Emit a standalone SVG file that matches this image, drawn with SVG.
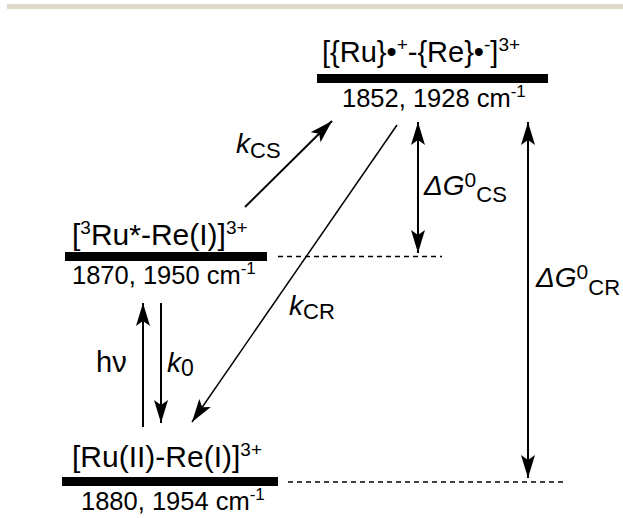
<svg xmlns="http://www.w3.org/2000/svg" width="623" height="518" viewBox="0 0 623 518">
<style>
  text { font-family: "Liberation Sans", Arial, Helvetica, sans-serif; fill: #000; }
  .lab { font-size: 30px; }
  .num { font-size: 25.5px; }
  .sup { font-size: 19px; }
  .nsup { font-size: 17px; }
  .it { font-style: italic; }
  .bar { fill: #000; }
  .arr { stroke: #000; stroke-width: 2; fill: none; }
  .dash { stroke: #000; stroke-width: 1.5; stroke-dasharray: 5 4; fill: none; }
</style>
<defs>
  <marker id="ah" markerUnits="userSpaceOnUse" markerWidth="23" markerHeight="14" refX="23" refY="7" orient="auto-start-reverse" overflow="visible">
    <path d="M23,7 L0,0 L5,7 L0,14 Z" fill="#000"/>
  </marker>
</defs>
<rect x="7" y="4" width="616" height="5" fill="#e0d8c8"/>

<g id="state-cs">
  <text class="lab" x="322" y="62" style="font-size:29px">[{Ru}•<tspan class="sup" dy="-11">+</tspan><tspan dy="11">-{Re}•</tspan><tspan class="sup" dy="-11">-</tspan><tspan dy="11">]</tspan><tspan class="sup" dy="-11">3+</tspan></text>
  <rect class="bar" x="317" y="74" width="231" height="9"/>
  <text class="num" x="342" y="107">1852, 1928 cm<tspan class="nsup" dy="-10">-1</tspan></text>
</g>

<g id="state-excited">
  <text class="lab" x="72" y="245">[<tspan class="sup" dy="-11">3</tspan><tspan dy="11">Ru*-Re(I)]</tspan><tspan class="sup" dy="-11">3+</tspan></text>
  <rect class="bar" x="65" y="252" width="202" height="9"/>
  <text class="num" x="72" y="284">1870, 1950 cm<tspan class="nsup" dy="-10">-1</tspan></text>
</g>

<g id="state-ground">
  <text class="lab" x="72" y="467">[Ru(II)-Re(I)]<tspan class="sup" dy="-11">3+</tspan></text>
  <rect class="bar" x="62" y="477" width="216" height="9"/>
  <text class="num" x="81" y="510">1880, 1954 cm<tspan class="nsup" dy="-10">-1</tspan></text>
</g>

<g id="connectors">
  <line class="dash" x1="278" y1="256.5" x2="442" y2="256.5"/>
  <line class="dash" x1="288" y1="482" x2="567" y2="482"/>
  <line class="arr" x1="245" y1="207" x2="332" y2="121" marker-end="url(#ah)"/>
  <line class="arr" x1="397" y1="125" x2="192" y2="422" style="stroke-width:1.5" marker-end="url(#ah)"/>
  <line class="arr" x1="418" y1="122" x2="418" y2="253" marker-start="url(#ah)" marker-end="url(#ah)"/>
  <line class="arr" x1="528" y1="122" x2="528" y2="478" marker-start="url(#ah)" marker-end="url(#ah)"/>
  <line class="arr" x1="143" y1="427" x2="143" y2="303" marker-end="url(#ah)"/>
  <line class="arr" x1="161" y1="303" x2="161" y2="423" marker-end="url(#ah)"/>
</g>

<g id="labels">
  <text x="236" y="153" style="font-size:28px"><tspan class="it">k</tspan><tspan dy="5" style="font-size:22px">CS</tspan></text>
  <text x="289" y="315" style="font-size:28px"><tspan class="it">k</tspan><tspan dy="4" style="font-size:22px">CR</tspan></text>
  <text x="167" y="372" style="font-size:28px"><tspan class="it">k</tspan><tspan dy="4" style="font-size:23px">0</tspan></text>
  <text x="96" y="372" style="font-size:29px">hν</text>
  <text x="424" y="195" style="font-size:28px"><tspan class="it">ΔG</tspan><tspan dy="-8" style="font-size:21px">0</tspan><tspan dy="15" style="font-size:22px">CS</tspan></text>
  <text x="536" y="287" style="font-size:28px"><tspan class="it">ΔG</tspan><tspan dy="-8" style="font-size:21px">0</tspan><tspan dy="16" style="font-size:22px">CR</tspan></text>
</g>
</svg>
